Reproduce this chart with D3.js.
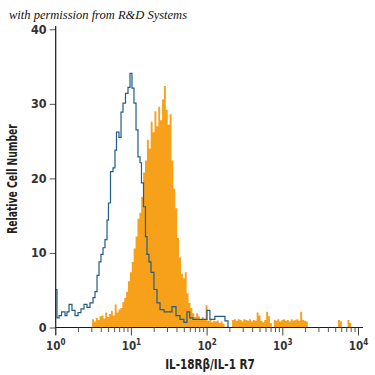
<!DOCTYPE html>
<html><head><meta charset="utf-8">
<script src="https://cdn.jsdelivr.net/npm/d3@7"></script>
<style>
html,body{margin:0;padding:0;background:#fff;}
svg{display:block;}
text{font-family:"DejaVu Sans Condensed","DejaVu Sans",sans-serif;font-stretch:condensed;}
</style></head>
<body>
<svg id="chart" width="375" height="375"></svg>
<script>
// ---- data ----
const yTicks = [0, 10, 20, 30, 40];
const xDecades = [0, 1, 2, 3, 4]; // exponents of 10
const xTitle = "IL-18Rβ/IL-1 R7";
const yTitle = "Relative Cell Number";
const credit = "with permission from R&D Systems";

// isotype control (blue outline): step start (log10 intensity) and count
const blueLog = [0.000,0.017,0.044,0.077,0.123,0.149,0.176,0.215,0.255,0.295,0.334,0.374,0.413,0.453,0.493,0.519,0.546,0.572,0.598,0.625,0.651,0.678,0.697,0.724,0.757,0.783,0.803,0.836,0.863,0.889,0.922,0.955,0.982,1.008,1.034,1.061,1.087,1.114,1.133,1.160,1.186,1.206,1.232,1.259,1.298,1.338,1.378,1.431,1.484,1.536,1.589,1.642,1.694,1.734,1.770,1.813,1.905,1.998,2.037,2.103,2.170,2.236,2.276];
const blueCount = [5.1,1.3,1.6,2.1,1.6,2.1,3.1,2.3,1.6,2.0,2.5,3.1,2.7,3.3,4.0,4.8,7.0,8.8,9.8,10.7,11.8,14.4,16.7,20.9,21.4,23.8,26.2,25.5,28.9,30.1,31.4,32.2,34.1,32.1,30.1,26.5,22.9,22.1,19.4,16.2,12.2,9.8,8.8,7.4,5.1,3.3,2.4,2.1,2.1,2.8,1.6,1.1,0.7,2.1,1.3,1.1,1.1,2.3,1.1,1.5,1.5,0.9,0];

// stained sample (orange fill): bins of equal log width
const orangeStartLog = 0.48;
const orangeBinLog = 0.025;
const orangeCount = [
 1.1,0.8,1.3,1.0,1.5, 1.6,1.2,2.0,1.4,1.8, 2.2,1.6,3.1,2.0,2.4, 2.6,3.4,4.0,4.8,6.2,
 7.4,8.8,10.6,12.2,14.6, 15.4,17.5,20.8,22.4,25.2, 24.0,27.6,26.2,29.0,27.0, 29.6,27.8,30.6,32.4,29.2,
 27.2,28.6,22.4,18.6,16.0, 12.0,9.4,7.2,6.6,7.4, 4.6,3.3,2.6,1.9,1.4, 1.9,1.5,1.1,1.4,1.0,
 3.0,0.9,1.0,0.7,0.9, 0.8,0.9,0.6,0.8,0.5, 0,0,0,0,
 1.0,1.1,0.9,1.1,1.0,0.8,1.1,1.0,0.9,1.1,0.8,1.0,0.9,
 2.0,1.6, 0.9,0.7, 1.0,2.1,1.5, 0.6,0,
 1.0,0.9,1.1,0.8,1.0,1.1,0.9,1.0,0.8,1.1,0.9,1.0,1.1,0.9,
 2.1, 1.0,0.9,0.8,0,
 0,0,0,0,0,0,0,0,0,0,0,0,0,0,0,
 1.0,0.8, 0,0,0, 1.0,0.6
];

// ---- drawing ----
const svg = d3.select("#chart");
const x = d3.scaleLog().domain([1, 10000]).range([55.7, 358.5]);
const y = d3.scaleLinear().domain([0, 40]).range([327.5, 29.3]);
const ink = "#1a1a1a";

// orange histogram
const oPts = orangeCount.map((c, i) => ({l: orangeStartLog + i * orangeBinLog, c}));
oPts.push({l: orangeStartLog + orangeCount.length * orangeBinLog, c: 0});
const area = d3.area()
  .x(d => x(Math.pow(10, d.l)))
  .y0(y(0)).y1(d => y(d.c))
  .curve(d3.curveStepAfter);
svg.append("path").datum(oPts).attr("d", area).attr("fill", "#F7A11A");

// blue outline
const bPts = blueLog.map((l, i) => ({l, c: blueCount[i]}));
const line = d3.line()
  .x(d => x(Math.pow(10, d.l)))
  .y(d => y(d.c))
  .curve(d3.curveStepAfter);
svg.append("path").datum(bPts).attr("d", line)
  .attr("fill", "none").attr("stroke", "#215d84").attr("stroke-width", 1.2);

// y axis
const yAxis = d3.axisLeft(y).tickValues(yTicks).tickSize(6).tickPadding(3).tickSizeOuter(0);
const gy = svg.append("g").attr("transform", `translate(${x(1)},0)`).call(yAxis);
gy.select(".domain").remove();
gy.append("line").attr("x1", 0).attr("x2", 0).attr("y1", 26).attr("y2", 335)
  .attr("stroke", ink).attr("stroke-width", 1.2);
gy.selectAll(".tick line").attr("stroke", "#555");
gy.selectAll(".tick text").attr("fill", "#333").style("font-size", "12.5px")
  .style("font-weight", "600").attr("font-family", null);

// x axis
const minorVals = [];
xDecades.slice(0, -1).forEach(e => { for (let k = 2; k <= 9; k++) minorVals.push(k * Math.pow(10, e)); });
const gx = svg.append("g").attr("transform", `translate(0,${y(0)})`);
gx.append("line").attr("x1", x(1)).attr("x2", 363).attr("y1", 0).attr("y2", 0)
  .attr("stroke", ink).attr("stroke-width", 1.2);
gx.selectAll(".minor").data(minorVals).enter().append("line")
  .attr("x1", d => x(d)).attr("x2", d => x(d)).attr("y1", 0).attr("y2", 4.5)
  .attr("stroke", "#555").attr("stroke-width", 1);
const major = gx.selectAll(".major").data(xDecades).enter().append("g")
  .attr("transform", e => `translate(${x(Math.pow(10, e))},0)`);
major.append("line").attr("y1", 0).attr("y2", 8).attr("stroke", "#444").attr("stroke-width", 1);
const lab = major.append("text").attr("y", 22).attr("text-anchor", "middle")
  .attr("fill", "#333").style("font-size", "11.5px").style("font-weight", "600");
lab.append("tspan").text("10");
lab.append("tspan").attr("dy", -5).style("font-size", "8px").text(e => e);

// titles
svg.append("text").attr("transform", "translate(210,369) scale(0.8,1)").attr("text-anchor", "middle")
  .attr("fill", "#222").style("font-size", "14.5px").style("font-weight", "bold").text(xTitle);
svg.append("text").attr("transform", "translate(17,179) rotate(-90) scale(0.76,1)").attr("text-anchor", "middle")
  .attr("fill", "#222").style("font-size", "13.5px").style("font-weight", "bold").text(yTitle);
svg.append("text").attr("x", 9).attr("y", 19)
  .attr("fill", "#111").style("font-family", "'Liberation Serif','DejaVu Serif',serif")
  .style("font-style", "italic").style("font-size", "12.5px").style("font-stretch", "normal").text(credit);
</script>
</body></html>
